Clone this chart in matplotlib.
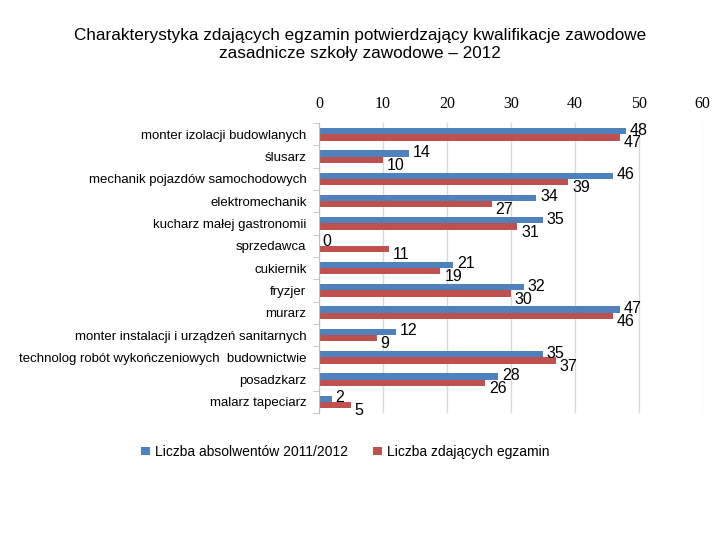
import numpy as np
import matplotlib.pyplot as plt

categories = [
    "monter izolacji budowlanych",
    "ślusarz",
    "mechanik pojazdów samochodowych",
    "elektromechanik",
    "kucharz małej gastronomii",
    "sprzedawca",
    "cukiernik",
    "fryzjer",
    "murarz",
    "monter instalacji i urządzeń sanitarnych",
    "technolog robót wykończeniowych  budownictwie",
    "posadzkarz",
    "malarz tapeciarz",
]
absolwenci = [48, 14, 46, 34, 35, 0, 21, 32, 47, 12, 35, 28, 2]
zdajacy = [47, 10, 39, 27, 31, 11, 19, 30, 46, 9, 37, 26, 5]
series_names = ["Liczba absolwentów 2011/2012", "Liczba zdających egzamin"]

plt.rcParams['font.family'] = ['Liberation Sans', 'DejaVu Sans']

fig = plt.figure(figsize=(7.2, 5.4), dpi=100)
ax = fig.add_axes([0.443, 0.235, 0.533, 0.537])

blue = "#4f81bd"
red = "#c0504d"
y = np.arange(len(categories))
h = 0.28
ax.barh(y - h / 2, absolwenci, height=h, color=blue, label=series_names[0])
ax.barh(y + h / 2, zdajacy, height=h, color=red, label=series_names[1])

for i in range(len(categories)):
    ax.text(absolwenci[i] + 0.6, y[i] - h / 2 - 0.05, str(absolwenci[i]),
            ha="left", va="center", fontsize=11.5)
    ax.text(zdajacy[i] + 0.6, y[i] + h / 2 + 0.25, str(zdajacy[i]),
            ha="left", va="center", fontsize=11.5)

ax.set_xlim(0, 60)
ax.set_ylim(len(categories) - 0.5, -0.5)
ax.set_xticks(range(0, 61, 10))
ax.set_yticks(y)
ax.set_yticklabels(categories, fontsize=9.5)
ax.xaxis.tick_top()
for lbl in ax.get_xticklabels():
    lbl.set_family("Liberation Serif")
    lbl.set_fontsize(11.5)
ax.tick_params(axis="x", length=0, pad=8)
ax.set_yticks(np.arange(len(categories) + 1) - 0.5, minor=True)
ax.tick_params(axis="y", which="minor", length=4, color="#bfbfbf")
ax.tick_params(axis="y", which="major", length=0, pad=9)
ax.grid(axis="x", color="#d9d9d9", linewidth=1)
ax.set_axisbelow(True)
for s in ["top", "right", "bottom"]:
    ax.spines[s].set_visible(False)
ax.spines["left"].set_color("#bfbfbf")

fig.text(0.5, 0.917, "Charakterystyka zdających egzamin potwierdzający kwalifikacje zawodowe\n"
         "zasadnicze szkoły zawodowe – 2012", ha="center", va="center", fontsize=12.3,
         linespacing=1.25)

fig.legend(loc="center", bbox_to_anchor=(0.48, 0.163), ncol=2, frameon=False,
           fontsize=10, handlelength=0.6, handleheight=0.6, columnspacing=1.8,
           handletextpad=0.4)

fig.savefig("out.png", dpi=100)
